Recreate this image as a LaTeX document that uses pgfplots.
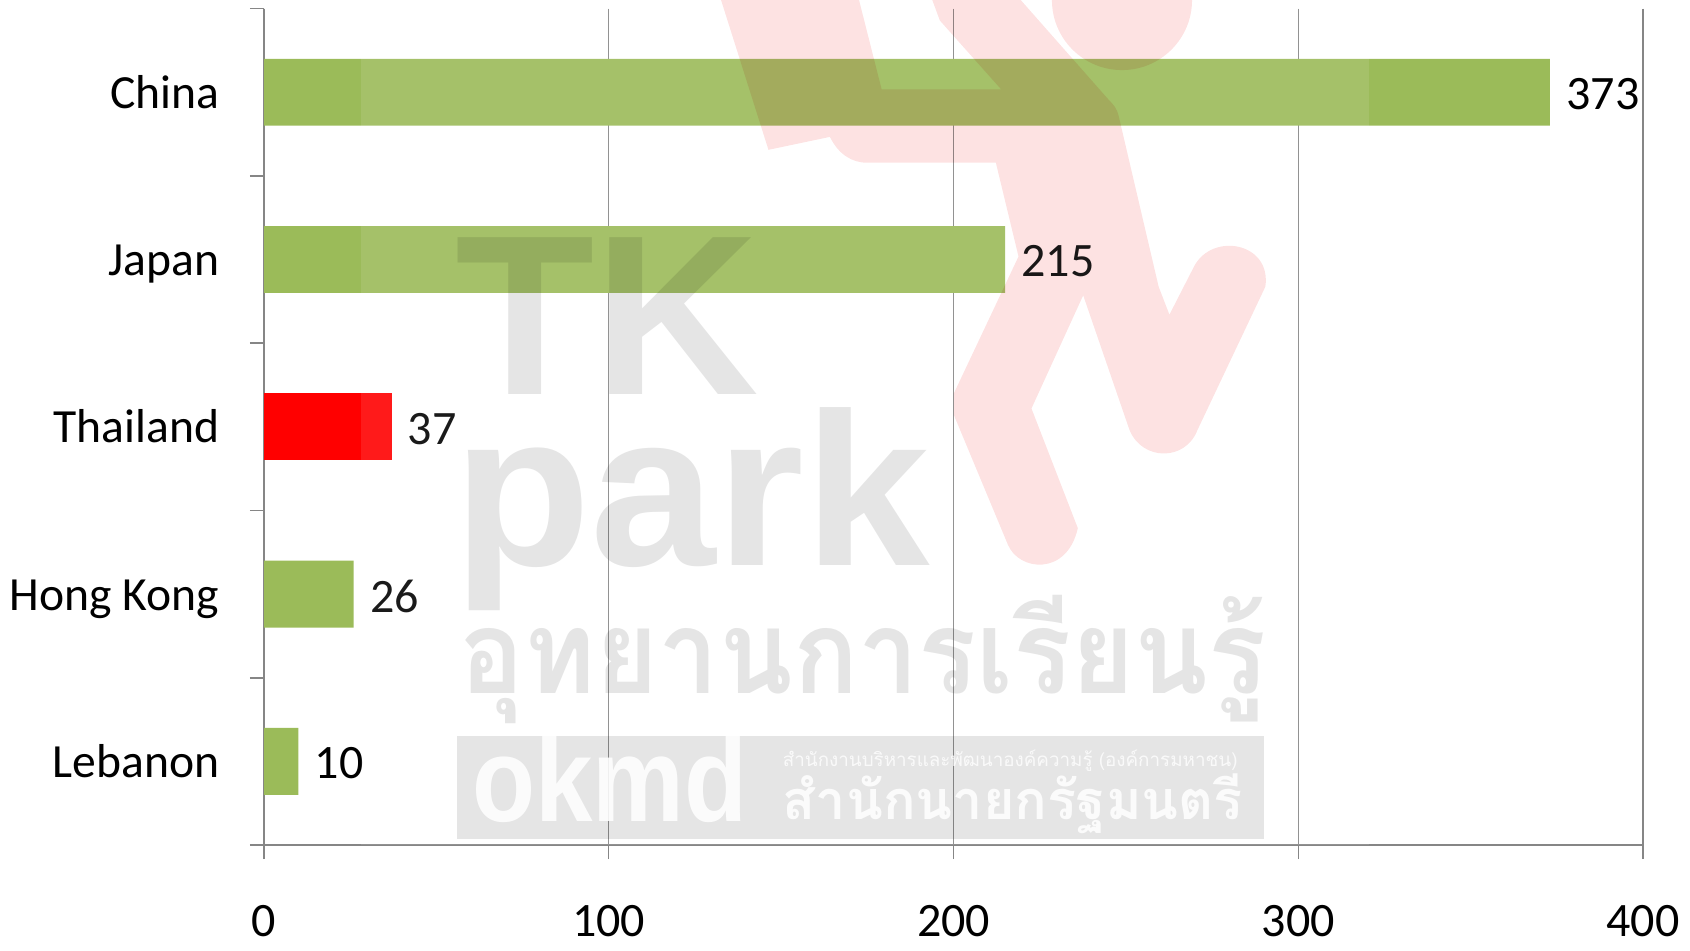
\documentclass[border=0pt]{standalone}
\usepackage{pgfplots}
\pgfplotsset{compat=1.18}
\usepackage{fontspec}
\setmainfont{Carlito}
\newfontfamily\markfont{Liberation Sans}
\newfontfamily\thaifont[Script=Thai]{Loma}
\definecolor{axisgray}{HTML}{868686}
\definecolor{bargreen}{HTML}{9BBB59}
\definecolor{markpink}{HTML}{FDE2E2}
\begin{document}
\begin{tikzpicture}
\useasboundingbox (0,0) rectangle (845pt,475pt);
\begin{axis}[
  at={(132pt,52.5pt)}, anchor=south west,
  scale only axis, width=689.5pt, height=418.2pt,
  clip=false,
  xmin=0, xmax=400, ymin=-0.5, ymax=4.5,
  y dir=reverse,
  axis x line=bottom, axis y line=left,
  axis line style={-, draw=axisgray, line width=0.9pt},
  xtick={0,100,200,300,400},
  ytick={0,1,2,3,4},
  yticklabels={China,Japan,Thailand,Hong Kong,Lebanon},
  minor ytick={-0.5,0.5,1.5,2.5,3.5,4.5},
  tick align=outside,
  major tick length=7pt, minor tick length=7pt,
  major y tick style={draw=none},
  minor y tick style={draw=axisgray, line width=0.8pt},
  major x tick style={draw=axisgray, line width=0.7pt},
  xmajorgrids,
  major grid style={draw=axisgray, line width=0.7pt},
  /pgf/number format/assume math mode=true,
  tick label style={font=\fontsize{24}{28}\selectfont, text=black},
  yticklabel style={font=\fontsize{23.8}{28}\selectfont, inner sep=0pt, xshift=-15.2pt, yshift=-2.7pt, text height=16pt, text depth=5.5pt},
  xticklabel style={inner sep=0pt, yshift=-23pt},
  xbar, bar width=33.4pt, bar shift=0pt,
  nodes near coords,
  every node near coord/.append style={font=\fontsize{24}{28}\selectfont, text=black, inner xsep=8pt, yshift=-1pt, /pgf/number format/assume math mode=true},
]
\addplot[draw=none, fill=bargreen] coordinates {(373,0) (215,1) (26,3) (10,4)};
\addplot[draw=none, fill=red] coordinates {(37,2)};
\end{axis}
% watermark laid over the chart, coordinates in the 1568x881 view
\begin{scope}[shift={(0,475pt)}, x=0.5389pt, y=-0.5389pt]
  \fill[white, opacity=0.1] (335,0) rectangle (1270,784);
  \begin{scope}
    \clip (0,0) rectangle (1568,881);
    \fill[markpink, blend mode=multiply]
      (669,0) -- (713,139) -- (770,127)
      .. controls (778,143) and (790,151) .. (805,151)
      -- (924,151) -- (945,238) -- (885,365) -- (885,385)
      -- (935,505) .. controls (945,530) and (990,535) .. (1000,490)
      -- (957,379) -- (1005,274) -- (1048,399)
      .. controls (1060,428) and (1100,428) .. (1111,399)
      -- (1174,266) .. controls (1180,225) and (1125,215) .. (1108,247)
      -- (1085,292) -- (1075,266) -- (1038,108)
      .. controls (1036,100) and (1033,97) .. (1029,93)
      -- (947,0) -- (865,0) -- (872,19) -- (929,83) -- (818,83) -- (797,0) -- cycle;
    \fill[markpink, blend mode=multiply] (1041,0) circle[radius=65];
  \end{scope}
  \node[anchor=base west, inner sep=0pt, text=black, text opacity=0.1, font={\markfont\bfseries\fontsize{114}{114}\selectfont}] at (422,366) {TK};
  \node[anchor=base west, inner sep=0pt, xscale=1.035, text=black, text opacity=0.1, font={\markfont\bfseries\fontsize{109}{109}\selectfont}] at (420,525) {park};
  \node[anchor=base west, inner sep=0pt, xscale=0.93, text=black, text opacity=0.1, font={\thaifont\bfseries\fontsize{58}{58}\selectfont}] at (426,643) {อุทยานการเรียนรู้};
  \fill[black, opacity=0.1] (424,683) rectangle (1173,778);
  \node[anchor=base west, inner sep=0pt, xscale=0.86, text=white, text opacity=0.88, font={\markfont\bfseries\fontsize{60}{60}\selectfont}] at (438,762) {okmd};
  \node[anchor=base west, inner sep=0pt, text=white, text opacity=0.8, font={\thaifont\fontsize{9.4}{9.4}\selectfont}] at (726,711) {สำนักงานบริหารและพัฒนาองค์ความรู้ (องค์การมหาชน)};
  \node[anchor=base west, inner sep=0pt, text=white, text opacity=0.85, font={\thaifont\bfseries\fontsize{27}{27}\selectfont}] at (726,760) {สำนักนายกรัฐมนตรี};
\end{scope}
\end{tikzpicture}
\end{document}
